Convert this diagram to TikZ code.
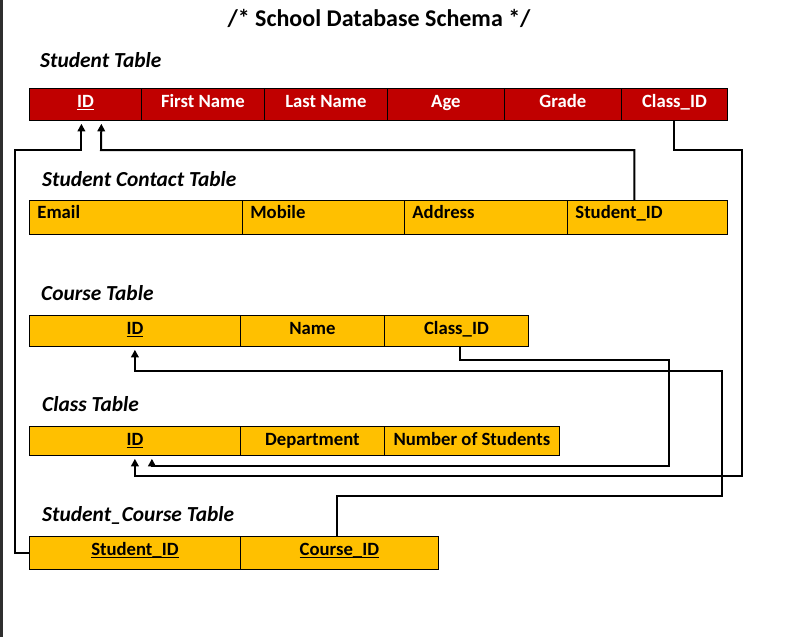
\documentclass[tikz,border=0pt]{standalone}
\usepackage{fontspec}
\setmainfont{Carlito}
\usetikzlibrary{arrows.meta}
\definecolor{hdrred}{HTML}{C00000}
\definecolor{gold}{HTML}{FFC000}
\definecolor{edgebar}{HTML}{2E2E2E}
\newcommand{\myul}[1]{\setbox0\hbox{#1}\rlap{\rule[-2.3pt]{\wd0}{1.2pt}}\box0}
\newcommand{\cellfont}{\fontsize{18.7}{22}\selectfont\bfseries}
\newcommand{\lblfont}{\fontsize{21.4}{24}\selectfont\bfseries\itshape}
\begin{document}
\begin{tikzpicture}[x=1pt,y=-1pt,
  cell/.style={draw=black, line width=0.8pt, inner sep=0pt, anchor=north west,
    font=\cellfont, text height=#1, text depth=0pt},
  cell/.default=7pt,
  redcell/.style={cell, fill=hdrred, text=white},
  goldcell/.style={cell=#1, fill=gold, text=black},
  goldcell/.default=7pt,
  lbl/.style={anchor=base west, inner sep=0pt, font=\lblfont},
  fk/.style={line width=2pt, -{Triangle[length=7.5pt,width=7.5pt]}, shorten >=3pt}]
\useasboundingbox (0,0) rectangle (794,637);
\fill[white] (0,0) rectangle (794,637);
\fill[edgebar] (0,0) rectangle (2.5,637);

\node[anchor=base, inner sep=0pt, font=\fontsize{24}{28}\selectfont\bfseries] (title) at (379,26) {/* School Database Schema */};

% Student table
\node[lbl] (lst) at (40,67) {Student Table};
\node[redcell, minimum width=112pt, minimum height=32pt] (st-id) at (29,88) {\myul{ID}};
\node[redcell, minimum width=123pt, minimum height=32pt] (st-fn) at (141,88) {First Name};
\node[redcell, minimum width=123pt, minimum height=32pt] (st-ln) at (264,88) {Last Name};
\node[redcell, minimum width=117pt, minimum height=32pt] (st-age) at (387,88) {Age};
\node[redcell, minimum width=117pt, minimum height=32pt] (st-gr) at (504,88) {Grade};
\node[redcell, minimum width=106pt, minimum height=32pt] (st-cls) at (621,88) {Class\_ID};

% Student contact table
\node[lbl] (lct) at (42,186) {Student Contact Table};
\node[goldcell=2.6pt, minimum width=213pt, minimum height=34pt] (ct-em) at (29,200) {\makebox[197pt][l]{Email}};
\node[goldcell=2.6pt, minimum width=162pt, minimum height=34pt] (ct-mo) at (242,200) {\makebox[146pt][l]{Mobile}};
\node[goldcell=2.6pt, minimum width=163pt, minimum height=34pt] (ct-ad) at (404,200) {\makebox[147pt][l]{Address}};
\node[goldcell=2.6pt, minimum width=160pt, minimum height=34pt] (ct-sid) at (567,200) {\makebox[144pt][l]{Student\_ID}};

% Course table
\node[lbl] (lco) at (41,300) {Course Table};
\node[goldcell, minimum width=211pt, minimum height=31pt] (co-id) at (29,315) {\myul{ID}};
\node[goldcell, minimum width=144pt, minimum height=31pt] (co-nm) at (240,315) {Name};
\node[goldcell, minimum width=144pt, minimum height=31pt] (co-cls) at (384,315) {Class\_ID};

% Class table
\node[lbl] (lcl) at (42,411) {Class Table};
\node[goldcell=9pt, minimum width=211pt, minimum height=29pt] (cl-id) at (29,426) {\myul{ID}};
\node[goldcell=9pt, minimum width=144pt, minimum height=29pt] (cl-dp) at (240,426) {Department};
\node[goldcell=9pt, minimum width=175pt, minimum height=29pt] (cl-ns) at (384,426) {Number of Students};

% Student_Course table
\node[lbl] (lsc) at (42,521) {Student\_Course Table};
\node[goldcell=5pt, minimum width=211pt, minimum height=33pt] (sc-sid) at (29,536) {\myul{Student\_ID}};
\node[goldcell=5pt, minimum width=198pt, minimum height=33pt] (sc-cid) at (240,536) {\myul{Course\_ID}};

% Connectors
\draw[fk] (sc-sid.west) -| (15,150) -| ([xshift=-4pt]st-id.south);
\draw[fk] ([xshift=-13pt]ct-sid.north) |- (101,150) -- ([xshift=16pt]st-id.south);
\draw[fk] (st-cls.south) |- (742,150) -- (742,476) -| (cl-id.south);
\draw[fk] ([xshift=4pt]co-cls.south) |- (669,360) -- (669,466) -| ([xshift=17pt]cl-id.south);
\draw[fk] ([xshift=-2pt]sc-cid.north) |- (722,496) -- (722,371) -| (co-id.south);
\end{tikzpicture}
\end{document}
